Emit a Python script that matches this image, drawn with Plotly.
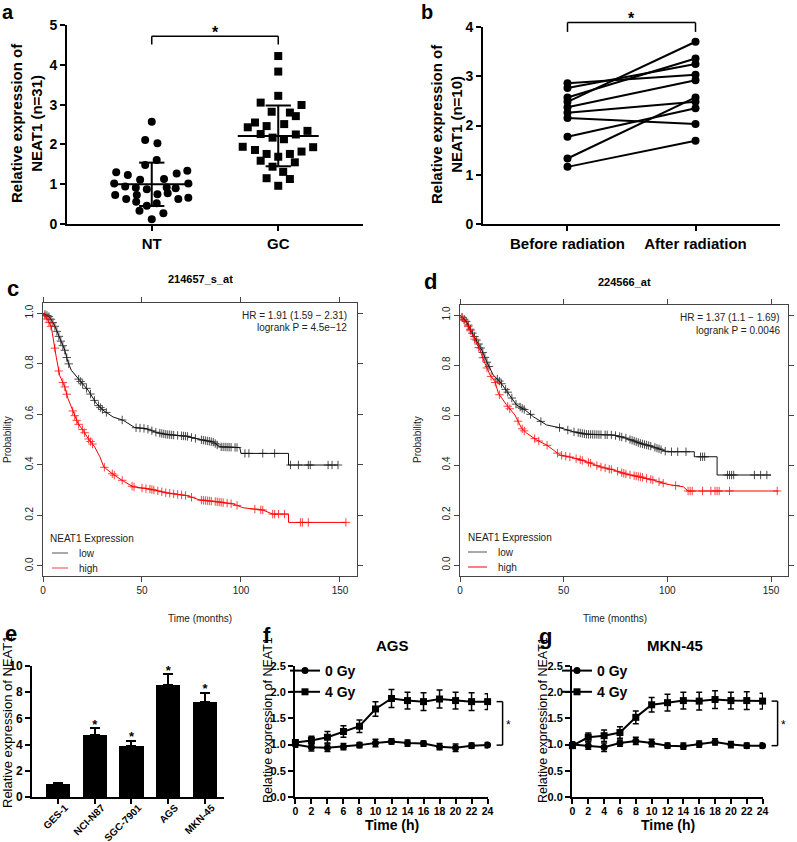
import numpy as np
import plotly.graph_objects as go

W, H = 797, 842
F = "Arial, 'Liberation Sans', Helvetica, sans-serif"

# ------------------------- DATA -------------------------
# panel a (scatter, n=31)
a_categories = ["NT", "GC"]
nt_values = [2.57, 2.11, 2.03, 1.61, 1.48, 1.30, 1.23, 1.11, 1.13, 1.27, 1.34, 1.02, 0.94, 0.91, 0.87, 0.92,
             0.90, 1.02, 0.73, 0.63, 0.73, 0.75, 0.77, 0.63, 0.66, 0.56, 0.46, 0.52, 0.33, 0.27, 0.12]
nt_jitter = [0, -0.052, 0.045, 0.039, -0.052, -0.281, -0.189, -0.092, 0.097, 0.197, 0.281, -0.297, -0.210,
             -0.126, -0.039, 0.118, 0.189, 0.289, -0.289, -0.202, -0.118, 0.045, 0.126, 0.210, 0.289, -0.123,
             -0.039, 0.039, -0.097, 0.092, 0]
gc_values = [4.22, 3.83, 3.22, 3.05, 2.99, 2.82, 2.80, 2.71, 2.55, 2.43, 2.46, 2.51, 2.26, 2.17, 2.13, 2.25,
             2.34, 1.94, 1.86, 1.76, 1.69, 1.76, 1.82, 1.93, 1.59, 1.55, 1.44, 1.31, 1.15, 1.13, 0.96]
gc_jitter = [0, 0, 0, -0.139, 0.184, -0.052, 0.092, 0.139, -0.184, -0.241, -0.092, 0.047, -0.139, -0.045,
             0.045, 0.139, 0.231, -0.281, -0.184, -0.092, 0, 0.092, 0.184, 0.276, -0.139, 0.131, -0.045, 0.039,
             -0.092, 0.092, 0]

# panel b (paired, n=10)
b_categories = ["Before radiation", "After radiation"]
before_rad = [2.86, 2.76, 2.57, 2.48, 2.37, 2.26, 2.15, 1.77, 1.33, 1.16]
after_rad = [3.03, 3.25, 3.36, 3.70, 2.92, 2.48, 2.03, 2.35, 2.57, 1.69]

# panel c (KM, 214657_s_at)
c_low_t = [0, 3.4, 5.9, 8.4, 11, 12.6, 14.3, 18.5, 22.8, 27, 30.3, 35.4, 40.5, 46.4, 52.2, 57.3, 62.4, 72.5,
           79.2, 86, 89.3, 99.4, 100, 124, 124, 149]
c_low_s = [1.0, 0.984, 0.95, 0.90, 0.853, 0.807, 0.774, 0.734, 0.695, 0.642, 0.616, 0.589, 0.576, 0.547, 0.543,
           0.528, 0.520, 0.513, 0.50, 0.49, 0.471, 0.468, 0.445, 0.445, 0.399, 0.399]
c_high_t = [0, 2.5, 4.2, 5, 6.7, 8.4, 11, 12.6, 15.2, 17.7, 20.2, 22.8, 26.1, 28.7, 30.7, 35.4, 40.5, 45.5,
            53.9, 62.4, 72.5, 79.2, 87.6, 96.1, 101, 111, 116, 124, 124, 153]
c_high_s = [1.0, 0.971, 0.945, 0.912, 0.826, 0.754, 0.708, 0.662, 0.609, 0.563, 0.537, 0.504, 0.471, 0.432,
            0.392, 0.362, 0.336, 0.313, 0.304, 0.289, 0.278, 0.261, 0.254, 0.245, 0.230, 0.221, 0.205, 0.205,
            0.172, 0.172]
c_low_cens = [1, 2, 3, 4, 5, 6, 7, 8, 9, 10, 11, 12, 13, 18, 19, 20, 22, 24, 26, 28, 29, 30, 32, 40, 47, 49, 51,
              53, 55, 57, 59, 60, 61, 62, 63, 64, 65, 66, 68, 70, 71, 72, 73, 75, 77, 80, 81, 82, 83, 84, 85, 86,
              87, 88, 90, 91, 92, 93, 94, 95, 97, 98, 102, 104, 111, 117, 125, 129, 134, 135, 144, 146, 149]
c_high_cens = [1, 2, 3, 4, 6, 8, 10, 11, 12, 15, 16, 17, 18, 20, 21, 23, 24, 25, 31, 35, 36, 40, 45, 46, 50, 52,
               54, 55, 56, 58, 60, 62, 64, 66, 68, 70, 72, 75, 80, 81, 82, 83, 84, 85, 87, 88, 89, 90, 91, 93, 95,
               98, 107, 110, 111, 116, 117, 119, 122, 130, 131, 134, 153]

# panel d (KM, 224566_at)
d_low_t = [0, 3.2, 5.6, 8, 10.5, 12.9, 16, 19.3, 24, 27.3, 31.4, 35.4, 41.8, 48.2, 54.7, 61.1, 74, 80.4, 86.8,
           93.2, 99.7, 113, 113, 124, 124, 150]
d_low_s = [1.0, 0.973, 0.933, 0.90, 0.86, 0.813, 0.76, 0.733, 0.68, 0.64, 0.62, 0.593, 0.56, 0.549, 0.533,
           0.523, 0.52, 0.507, 0.487, 0.473, 0.453, 0.453, 0.433, 0.433, 0.36, 0.36]
d_high_t = [0, 3.2, 5.6, 9.6, 12, 14.5, 16.9, 18.5, 22.5, 26.5, 29.7, 32.2, 37, 41.8, 45, 48.2, 54.7, 61.1,
            67.5, 74, 80.4, 86.8, 93.2, 99.7, 107.7, 110, 153.5]
d_high_s = [1.0, 0.967, 0.927, 0.86, 0.807, 0.76, 0.733, 0.687, 0.64, 0.60, 0.547, 0.527, 0.50, 0.48, 0.46,
            0.44, 0.429, 0.413, 0.393, 0.38, 0.363, 0.353, 0.34, 0.323, 0.313, 0.296, 0.296]
d_low_cens = [1, 2, 3, 4, 5, 6, 7, 8, 9, 10, 11, 12, 13, 14, 18, 19, 20, 22, 23, 25, 27, 29, 30, 31, 34, 39, 48,
              52, 55, 57, 58, 59, 60, 61, 62, 63, 64, 65, 66, 67, 68, 70, 71, 73, 75, 77, 78, 80, 82, 83, 84, 85,
              86, 87, 88, 89, 90, 91, 92, 94, 95, 96, 97, 99, 102, 105, 109, 116, 117, 118, 129, 130, 131, 132,
              142, 145, 148]
d_high_cens = [1, 2, 4, 5, 7, 9, 11, 13, 15, 17, 19, 23, 24, 28, 30, 31, 36, 38, 42, 47, 49, 51, 53, 56, 58, 59,
               62, 63, 66, 68, 70, 72, 73, 76, 78, 79, 80, 82, 84, 85, 86, 87, 88, 90, 92, 93, 96, 98, 104, 110,
               111, 112, 117, 121, 123, 124, 125, 130, 153]

# panel e (bars)
e_cells = ["GES-1", "NCI-N87", "SGC-7901", "AGS", "MKN-45"]
e_means = [1.0, 4.75, 3.86, 8.55, 7.23]
e_errs = [0.08, 0.50, 0.45, 0.84, 0.74]
e_sig = ["", "*", "*", "*", "*"]

# panels f, g (time course)
hours = [0, 2, 4, 6, 8, 10, 12, 14, 16, 18, 20, 22, 24]
f_0gy = [1.00, 0.95, 0.94, 0.96, 0.99, 1.03, 1.06, 1.03, 1.02, 0.96, 0.94, 0.98, 0.99]
f_0gy_err = [0.05, 0.07, 0.07, 0.06, 0.05, 0.07, 0.05, 0.06, 0.05, 0.06, 0.07, 0.05, 0.05]
f_4gy = [1.04, 1.08, 1.14, 1.25, 1.35, 1.68, 1.88, 1.84, 1.82, 1.87, 1.84, 1.82, 1.82]
f_4gy_err = [0.05, 0.08, 0.11, 0.11, 0.12, 0.14, 0.17, 0.16, 0.17, 0.17, 0.16, 0.17, 0.15]
g_0gy = [1.00, 0.98, 0.95, 1.03, 1.07, 1.03, 0.98, 0.97, 1.01, 1.05, 1.00, 0.98, 0.98]
g_0gy_err = [0.05, 0.07, 0.08, 0.06, 0.07, 0.07, 0.05, 0.06, 0.06, 0.06, 0.06, 0.05, 0.05]
g_4gy = [0.98, 1.14, 1.17, 1.23, 1.52, 1.76, 1.80, 1.84, 1.83, 1.86, 1.84, 1.84, 1.83]
g_4gy_err = [0.05, 0.08, 0.11, 0.11, 0.12, 0.14, 0.16, 0.16, 0.17, 0.17, 0.16, 0.17, 0.15]

# ------------------------- LAYOUT GEOMETRY (pixels) -------------------------
P = {
    "a": dict(x=(67, 363), y=(25, 224), xr=(-0.67, 1.67), yr=(0, 5), n=""),
    "b": dict(x=(483, 780), y=(27, 224), xr=(-0.66, 1.66), yr=(0, 4), n="2"),
    "c": dict(x=(43, 357), y=(303, 576), xr=(0, 158.6), yr=(-0.04, 1.04), n="3"),
    "d": dict(x=(460, 788), y=(305, 576), xr=(0, 158.2), yr=(-0.044, 1.04), n="4"),
    "e": dict(x=(32, 224), y=(666, 797), xr=(-0.71, 4.52), yr=(0, 10), n="5"),
    "f": dict(x=(295, 488), y=(666, 797), xr=(-0.05, 24.05), yr=(0, 2.5), n="6"),
    "g": dict(x=(572, 763), y=(666, 797), xr=(-0.05, 24.05), yr=(0, 2.5), n="7"),
}


def px_x(p, v):
    q = P[p]
    return q["x"][0] + (v - q["xr"][0]) / (q["xr"][1] - q["xr"][0]) * (q["x"][1] - q["x"][0])


def px_y(p, v):
    q = P[p]
    return q["y"][1] - (v - q["yr"][0]) / (q["yr"][1] - q["yr"][0]) * (q["y"][1] - q["y"][0])


def ann(text, x, y, size, bold=False, xanchor="center", yanchor="middle", angle=0, color="black"):
    return dict(text=text, x=x / W, y=1 - y / H, xref="paper", yref="paper", showarrow=False,
                xanchor=xanchor, yanchor=yanchor, textangle=angle,
                font=dict(family=F, size=size, color=color, weight="bold" if bold else "normal"))


def seg(x0, y0, x1, y1, w=1.5, color="black"):
    return dict(type="line", xref="paper", yref="paper", x0=x0 / W, y0=1 - y0 / H, x1=x1 / W, y1=1 - y1 / H,
                line=dict(color=color, width=w))


fig = go.Figure()
annotations, shapes = [], []


def ax(p):
    n = P[p]["n"]
    return dict(xaxis="x" + n, yaxis="y" + n)


# ---- panel a ----
fig.add_trace(go.Scatter(x=np.array(nt_jitter) + 0, y=nt_values, mode="markers", showlegend=False,
                         marker=dict(symbol="circle", size=8, color="black"), **ax("a")))
fig.add_trace(go.Scatter(x=np.array(gc_jitter) + 1, y=gc_values, mode="markers", showlegend=False,
                         marker=dict(symbol="square", size=8, color="black"), **ax("a")))
for i, vals in enumerate([nt_values, gc_values]):
    m, sd = float(np.mean(vals)), float(np.std(vals, ddof=1))
    xs = [i - 0.32, i + 0.32, None, i, i, None, i - 0.1, i + 0.1, None, i - 0.1, i + 0.1]
    ys = [m, m, None, m - sd, m + sd, None, m - sd, m - sd, None, m + sd, m + sd]
    fig.add_trace(go.Scatter(x=xs, y=ys, mode="lines", line=dict(color="black", width=2), showlegend=False,
                             **ax("a")))
# bracket a
ya_top, ya_leg = px_y("a", 4.72), px_y("a", 4.51)
xa0, xa1 = px_x("a", 0), px_x("a", 1)
shapes += [seg(xa0, ya_top, xa1, ya_top), seg(xa0, ya_top, xa0, ya_leg), seg(xa1, ya_top, xa1, ya_leg)]
annotations.append(ann("*", (xa0 + xa1) / 2, ya_top - 4, 16, bold=True))

# ---- panel b ----
for bv, av in zip(before_rad, after_rad):
    fig.add_trace(go.Scatter(x=[0, 1], y=[bv, av], mode="lines+markers", showlegend=False,
                             line=dict(color="black", width=2), marker=dict(size=8, color="black"),
                             cliponaxis=False, **ax("b")))
yb_top, yb_leg = px_y("b", 4.09), px_y("b", 3.90)
xb0, xb1 = px_x("b", 0), px_x("b", 1)
shapes += [seg(xb0, yb_top, xb1, yb_top), seg(xb0, yb_top, xb0, yb_leg), seg(xb1, yb_top, xb1, yb_leg)]
annotations.append(ann("*", (xb0 + xb1) / 2, yb_top - 4, 16, bold=True))


# ---- panels c, d (KM) ----
def km(p, t, s, cens, color):
    fig.add_trace(go.Scatter(x=t, y=s, mode="lines", line=dict(color=color, width=1), showlegend=False,
                             **ax(p)))
    cy = np.interp(cens, t, s)
    fig.add_trace(go.Scatter(x=cens, y=cy, mode="markers", showlegend=False,
                             marker=dict(symbol="cross-thin", size=6, line=dict(color=color, width=1)),
                             opacity=0.75, **ax(p)))


km("c", c_low_t, c_low_s, c_low_cens, "#111111")
km("c", c_high_t, c_high_s, c_high_cens, "#ff0000")
km("d", d_low_t, d_low_s, d_low_cens, "#111111")
km("d", d_high_t, d_high_s, d_high_cens, "#ff0000")

# ---- panel e ----
xe = list(range(len(e_cells)))
fig.add_trace(go.Bar(x=xe, y=e_means, width=0.66, marker=dict(color="black", line=dict(width=0)),
                     error_y=dict(type="data", array=e_errs, arrayminus=[0] * len(e_errs), symmetric=False,
                                  color="black", thickness=2, width=5),
                     showlegend=False, **ax("e")))
fig.add_trace(go.Scatter(x=xe, y=[m + e + 0.2 for m, e in zip(e_means, e_errs)], text=e_sig, mode="text",
                         textfont=dict(family=F, size=13, color="black", weight="bold"),
                         textposition="middle center", showlegend=False, cliponaxis=False, **ax("e")))


# ---- panels f, g ----
def tc(p, y0, e0, y4, e4, legend):
    fig.add_trace(go.Scatter(x=hours, y=y0, name="0 Gy", mode="lines+markers",
                             line=dict(color="black", width=2), marker=dict(symbol="circle", size=7, color="black"),
                             error_y=dict(type="data", array=e0, color="black", thickness=1.5, width=3),
                             cliponaxis=False, legend=legend, **ax(p)))
    fig.add_trace(go.Scatter(x=hours, y=y4, name="4 Gy", mode="lines+markers",
                             line=dict(color="black", width=2), marker=dict(symbol="square", size=7, color="black"),
                             error_y=dict(type="data", array=e4, color="black", thickness=1.5, width=3),
                             cliponaxis=False, legend=legend, **ax(p)))
    xr = px_x(p, hours[-1])
    yt, yb = px_y(p, y4[-1]), px_y(p, y0[-1])
    shapes.extend([seg(xr + 9, yt, xr + 15, yt), seg(xr + 15, yt, xr + 15, yb), seg(xr + 9, yb, xr + 15, yb)])
    annotations.append(ann("*", xr + 21, (yt + yb) / 2 + 2, 12, bold=False))


tc("f", f_0gy, f_0gy_err, f_4gy, f_4gy_err, "legend")
tc("g", g_0gy, g_0gy_err, g_4gy, g_4gy_err, "legend2")

# ------------------------- AXES -------------------------
gp_tick = dict(family=F, size=14, color="black", weight="bold")
gp = dict(showline=True, linecolor="black", linewidth=2, ticks="outside", ticklen=5, tickwidth=2,
          tickcolor="black", showgrid=False, zeroline=False, fixedrange=True, automargin=False)
rr = dict(showline=True, mirror="ticks", linecolor="#444", linewidth=1, ticks="outside", ticklen=5, tickwidth=1,
          tickcolor="#444", showgrid=False, zeroline=False, automargin=False, fixedrange=True,
          tickfont=dict(family=F, size=10, color="#222"))

layout_axes = {}
for p, q in P.items():
    n = q["n"]
    dx = [q["x"][0] / W, q["x"][1] / W]
    dy = [1 - q["y"][1] / H, 1 - q["y"][0] / H]
    xa = dict(domain=dx, range=list(q["xr"]), anchor="y" + n)
    ya = dict(domain=dy, range=list(q["yr"]), anchor="x" + n)
    if p in ("c", "d"):
        xa.update(rr, tickvals=[0, 50, 100, 150])
        ya.update(rr, tickvals=[0, 0.2, 0.4, 0.6, 0.8, 1.0], tickformat=".1f", tickangle=-90)
    else:
        xa.update(gp)
        ya.update(gp)
        if p == "a":
            xa.update(tickvals=[0, 1], ticktext=a_categories, tickfont=dict(gp_tick, size=15))
            ya.update(dtick=1, tickfont=gp_tick)
        elif p == "b":
            xa.update(tickvals=[0, 1], ticktext=b_categories, tickfont=dict(gp_tick, size=15))
            ya.update(dtick=1, tickfont=gp_tick)
        elif p == "e":
            xa.update(tickvals=xe, ticktext=e_cells, tickangle=-45, tickfont=dict(gp_tick, size=10),
                      ticklabelshift=7, ticklabelstandoff=-6)
            ya.update(dtick=2, tickfont=dict(gp_tick, size=12))
        else:
            xa.update(tickvals=hours, tickfont=dict(gp_tick, size=10.5), ticklabelstandoff=-2)
            ya.update(dtick=0.5, tickformat=".1f", tickfont=dict(gp_tick, size=11))
    layout_axes["xaxis" + n] = xa
    layout_axes["yaxis" + n] = ya

# ------------------------- TEXT -------------------------
annotations += [
    ann("a", 8, 12, 20, bold=True),
    ann("b", 427, 12, 20, bold=True),
    ann("c", 13, 288, 22, bold=True),
    ann("d", 430, 281, 22, bold=True),
    ann("e", 11, 633, 22, bold=True),
    ann("f", 267, 635, 22, bold=True),
    ann("g", 545, 636, 22, bold=True),
    ann("Relative expression of<br>NEAT1 (n=31)", 27, 123, 15, bold=True, angle=-90),
    ann("Relative expression of<br>NEAT1 (n=10)", 446, 124, 15, bold=True, angle=-90),
    ann("214657_s_at", 200, 279, 11, bold=True),
    ann("224566_at", 624, 282, 11, bold=True),
    ann("HR = 1.91 (1.59 \u2212 2.31)", 349, 316, 10, xanchor="right", color="#222"),
    ann("logrank P = 4.5e\u221212", 349, 328, 10, xanchor="right", color="#222"),
    ann("HR = 1.37 (1.1 \u2212 1.69)", 782, 318, 10, xanchor="right", color="#222"),
    ann("logrank P = 0.0046", 782, 330, 10, xanchor="right", color="#222"),
    ann("Probability", 8, 440, 10, angle=-90, color="#222"),
    ann("Probability", 418, 440, 10, angle=-90, color="#222"),
    ann("Time (months)", 200, 618, 10, color="#222"),
    ann("Time (months)", 615, 618, 10, color="#222"),
    ann("NEAT1 Expression", 48, 538, 10, xanchor="left", color="#222"),
    ann("low", 77, 553, 10, xanchor="left", color="#222"),
    ann("high", 77, 568, 10, xanchor="left", color="#222"),
    ann("NEAT1 Expression", 466, 537, 10, xanchor="left", color="#222"),
    ann("low", 496, 552, 10, xanchor="left", color="#222"),
    ann("high", 496, 567, 10, xanchor="left", color="#222"),
    ann("Relative expression of NEAT1", 7, 722, 13, angle=-90),
    ann("AGS", 392, 645, 15, bold=True),
    ann("MKN-45", 675, 645, 15, bold=True),
    ann("Time (h)", 392, 825, 14, bold=True),
    ann("Time (h)", 668, 825, 14, bold=True),
    ann("Relative expression of NEAT1", 268, 720, 12.5, angle=-90),
    ann("Relative expression of NEAT1", 543, 720, 12.5, angle=-90),
]
shapes += [
    seg(52, 553, 68, 553, 1, "#555"), seg(52, 568, 68, 568, 2, "#f9a0a0"),
    seg(468, 552, 487, 552, 1, "#555"), seg(468, 567, 487, 567, 1, "#ee0000"),
]

leg_common = dict(font=dict(family=F, size=14, color="black", weight="bold"), bgcolor="rgba(0,0,0,0)",
                  xanchor="left", yanchor="top", itemwidth=30, tracegroupgap=0)
fig.update_layout(
    width=W, height=H, margin=dict(l=0, r=0, t=0, b=0, autoexpand=False),
    paper_bgcolor="white", plot_bgcolor="white",
    font=dict(family=F, color="black"),
    showlegend=True,
    legend=dict(leg_common, x=285 / W, y=1 - 655 / H),
    legend2=dict(leg_common, x=557 / W, y=1 - 655 / H),
    annotations=annotations, shapes=shapes,
    bargap=0,
    **layout_axes,
)

fig.write_html("out.html", config={"displayModeBar": False},
               post_script="document.body.style.margin='0';document.body.style.overflow='hidden';")
